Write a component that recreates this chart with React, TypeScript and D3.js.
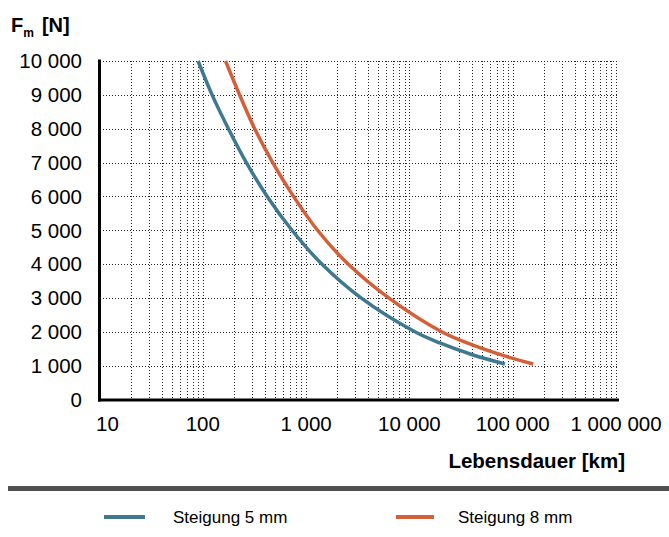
import React from 'react';
import * as d3 from 'd3';

// Lebensdauer [km] vs. Axialkraft Fm [N]
const lifeKm5 = [90, 123, 177, 264, 420, 730, 1420, 3400, 11300, 19700, 40000, 84000];
const force5 = [10000, 9000, 8000, 7000, 6000, 5000, 4000, 3000, 2000, 1670, 1330, 1050];

const lifeKm8 = [166, 227, 318, 475, 755, 1290, 2550, 6300, 20500, 40000, 85000, 158000];
const force8 = [10000, 9000, 8000, 7000, 6000, 5000, 4000, 3000, 2000, 1620, 1280, 1050];

const xTickValues = [10, 100, 1000, 10000, 100000, 1000000];
const yTickValues = [0, 1000, 2000, 3000, 4000, 5000, 6000, 7000, 8000, 9000, 10000];

const seriesNames = ['Steigung 5 mm', 'Steigung 8 mm'];
const seriesColors = ['#3e7891', '#d4603a'];

const W = 669;
const H = 537;
const FONT = '"Liberation Sans", Arial, Helvetica, sans-serif';

const locale = d3.formatLocale({ decimal: ',', thousands: ' ', grouping: [3], currency: ['', ''] });
const fmt = locale.format(',d');

export default function App() {
  const x = d3.scaleLog().domain([10, 1000000]).range([99.5, 616]);
  const y = d3.scaleLinear().domain([0, 10000]).range([399.5, 61]);

  const line = d3.line<[number, number]>()
    .x(d => x(d[0]))
    .y(d => y(d[1]))
    .curve(d3.curveCatmullRom.alpha(0.5));

  const series = [
    lifeKm5.map((v, i) => [v, force5[i]] as [number, number]),
    lifeKm8.map((v, i) => [v, force8[i]] as [number, number]),
  ];

  // all minor/major log ticks except the axis itself
  const xGrid = x.ticks().filter(t => t > 10);
  const yGrid = yTickValues.filter(t => t > 0);

  return (
    <svg width={W} height={H} style={{ position: 'absolute', left: 0, top: 0, background: '#fff' }}
      fontFamily={FONT}>
      {/* title */}
      <text x={11} y={32} fontSize={20} fontWeight="bold" fill="#000">
        F<tspan fontSize={12} dy={5}>m</tspan><tspan dy={-5} dx={8}>[N]</tspan>
      </text>

      {/* grid */}
      <g stroke="#000" strokeWidth={1} strokeDasharray="1 2" opacity={0.85}>
        {xGrid.map(t => (
          <line key={'vx' + t} x1={Math.round(x(t)) + 0.5} x2={Math.round(x(t)) + 0.5} y1={61} y2={399} />
        ))}
        {yGrid.map(t => (
          <line key={'hy' + t} x1={100} x2={618} y1={Math.round(y(t)) + 0.5} y2={Math.round(y(t)) + 0.5} />
        ))}
      </g>

      {/* axes */}
      <line x1={99.5} x2={99.5} y1={59.5} y2={401.5} stroke="#000" strokeWidth={3} />
      <line x1={98} x2={619} y1={400} y2={400} stroke="#000" strokeWidth={3} />

      {/* y labels */}
      {yTickValues.map(t => (
        <text key={'yl' + t} x={82} y={y(t)} dy="0.36em" textAnchor="end" fontSize={20.5} fill="#000">
          {fmt(t)}
        </text>
      ))}

      {/* x labels */}
      {xTickValues.map((t, i) => (
        <text key={'xl' + t} x={x(t) + (i === 0 ? 8 : 0)} y={431} textAnchor="middle" fontSize={20.5} fill="#000">
          {fmt(t)}
        </text>
      ))}

      <text x={625} y={468} textAnchor="end" fontSize={20.5} fontWeight="bold" fill="#000">
        Lebensdauer [km]
      </text>

      {/* curves */}
      {series.map((s, i) => (
        <path key={'s' + i} d={line(s) || ''} fill="none" stroke={seriesColors[i]} strokeWidth={3.5} />
      ))}

      {/* legend */}
      <rect x={8} y={486} width={661} height={5} fill="#505050" />
      {seriesNames.map((n, i) => (
        <g key={'lg' + i}>
          <line x1={i === 0 ? 104 : 396} x2={i === 0 ? 145 : 434} y1={517} y2={517}
            stroke={seriesColors[i]} strokeWidth={4} />
          <text x={i === 0 ? 173 : 458} y={523} fontSize={17} fill="#000">{n}</text>
        </g>
      ))}
    </svg>
  );
}
